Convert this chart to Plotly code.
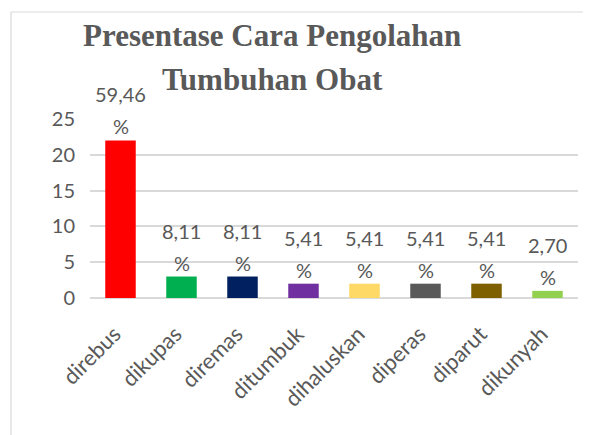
import plotly.graph_objects as go

categories = ["direbus", "dikupas", "diremas", "ditumbuk", "dihaluskan", "diperas", "diparut", "dikunyah"]
values = [22, 3, 3, 2, 2, 2, 2, 1]
percent_labels = ["59,46", "8,11", "8,11", "5,41", "5,41", "5,41", "5,41", "2,70"]
colors = ["#FF0000", "#00B050", "#002060", "#7030A0", "#FFD966", "#595959", "#7F6000", "#92D050"]
y_ticks = [0, 5, 10, 15, 20, 25]
title_lines = ["Presentase Cara Pengolahan", "Tumbuhan Obat"]

OFF = 8  # page body margin
W, H = 591 - OFF, 435 - OFF
L, R, T, B = 90 - OFF, 13, 119 - OFF, 137
pw, ph = W - L - R, H - T - B
FONT = "Lato, Liberation Sans, sans-serif"
GREY = "#595959"
TFONT = dict(family="Liberation Serif, Times New Roman, serif", size=31, color=GREY)


def page_y_to_paper(py):
    return (T + ph - (py - OFF)) / ph


fig = go.Figure(go.Bar(
    x=categories, y=values,
    marker=dict(color=colors, line=dict(width=0)),
    cliponaxis=False,
    width=0.5,
))

# two-line value labels above each bar
for c, v, p in zip(categories, values, percent_labels):
    fig.add_annotation(x=c, y=v, text="%", showarrow=False, yanchor="bottom",
                       yshift=0, font=dict(family=FONT, size=20, color=GREY))
    fig.add_annotation(x=c, y=v, text=p, showarrow=False, yanchor="bottom",
                       yshift=32, font=dict(family=FONT, size=20, color=GREY))

# title as two lines
fig.add_annotation(text=f"<b>{title_lines[0]}</b>", xref="paper", yref="paper",
                   x=(272 - 90) / pw, y=page_y_to_paper(35), xanchor="center", yanchor="middle",
                   showarrow=False, font=TFONT)
fig.add_annotation(text=f"<b>{title_lines[1]}</b>", xref="paper", yref="paper",
                   x=(272 - 90) / pw, y=page_y_to_paper(79), xanchor="center", yanchor="middle",
                   showarrow=False, font=TFONT)

fig.update_layout(
    width=W, height=H,
    margin=dict(l=L, r=R, t=T, b=B, autoexpand=False),
    paper_bgcolor="white", plot_bgcolor="white",
    showlegend=False,
    font=dict(family=FONT, color=GREY),
    xaxis=dict(
        tickangle=-45, tickfont=dict(size=22, color=GREY),
        showgrid=False, showline=False, ticks="", automargin=False,
        ticklabelstandoff=18, ticklabelshift=-6,
    ),
    yaxis=dict(
        range=[0, 25], tickvals=y_ticks, tickfont=dict(size=20, color=GREY),
        showgrid=True, gridcolor="#D9D9D9", gridwidth=1.5,
        zeroline=True, zerolinecolor="#D9D9D9", zerolinewidth=1.5,
        ticks="", ticklen=0, showline=False, automargin=False,
        ticklabelstandoff=14,
    ),
)

# outer frame (top and left border)
x_left = (11 - OFF - L) / pw
y_top = 1 + (T - (12 - OFF)) / ph
y_bot = -(H - T - ph) / ph - 0.01
fig.add_shape(type="line", xref="paper", yref="paper", x0=x_left, x1=1 + R / pw + 0.05, y0=y_top, y1=y_top,
              line=dict(color="#D9D9D9", width=1.2))
fig.add_shape(type="line", xref="paper", yref="paper", x0=x_left, x1=x_left, y0=y_top, y1=y_bot,
              line=dict(color="#D9D9D9", width=1.2))

fig.write_html("out.html")
